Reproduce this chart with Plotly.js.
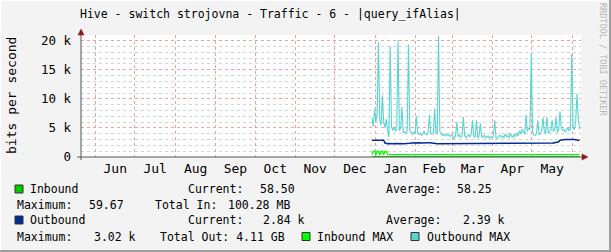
<!DOCTYPE html>
<html>
<head>
<meta charset="utf-8">
<script src="https://cdn.plot.ly/plotly-3.0.1.min.js"></script>
<style>html,body{margin:0;padding:0;background:#f3f3f3;}#chart{width:611px;height:252px;}</style>
</head>
<body>
<div id="chart"></div>
<script>
// ---- data (kbps), one value per day starting 2018-12-29 12:00 ----
const startDate = "2018-12-29T12:00:00";
const outboundMaxK = [6.7,5.2,8.2,6.0,7.5,19.8,6.3,5.5,10.6,6.0,5.0,6.5,4.6,3.4,19.1,5.2,4.6,5.2,4.4,4.8,
  20.1,4.5,5.0,8.6,4.2,4.3,4.0,4.6,19.3,4.6,4.2,3.9,4.3,4.0,7.0,4.2,3.9,4.1,3.7,4.0,
  4.4,4.0,3.8,4.3,7.2,4.1,3.9,4.0,8.3,4.2,3.9,20.8,4.4,4.0,3.7,3.9,3.6,4.0,3.7,3.8,
  3.5,3.9,3.4,3.2,3.6,6.0,3.5,3.8,3.4,3.6,6.9,3.7,3.3,3.6,3.8,3.5,3.9,6.3,3.6,3.4,
  6.3,3.3,3.6,5.8,3.5,3.4,3.8,3.3,3.5,3.6,3.2,3.5,3.4,3.7,6.3,3.3,3.2,3.5,3.8,3.4,
  3.6,3.3,4.0,3.5,3.7,3.3,4.1,3.6,3.4,3.9,3.5,4.2,3.6,4.5,4.0,4.8,4.2,3.9,7.2,4.4,
  5.0,4.7,17.8,4.3,3.8,3.7,4.1,6.3,3.9,4.0,4.5,6.8,4.4,4.0,6.9,4.1,4.3,4.6,6.3,4.4,
  4.7,6.8,4.2,4.8,7.8,5.0,4.6,4.7,4.3,4.6,5.0,4.5,4.8,17.7,5.0,4.7,6.0,10.9,6.6,4.8];
const outboundK = [2.88,2.88,2.87,2.88,2.9,2.92,2.9,2.9,2.95,2.9,2.4,2.32,2.3,2.33,2.3,2.32,2.34,2.3,2.32,2.3,
  2.33,2.31,2.3,2.34,2.32,2.3,2.33,2.3,2.32,2.35,2.4,2.42,2.4,2.44,2.42,2.45,2.4,2.43,2.42,2.4,
  2.44,2.42,2.45,2.43,2.47,2.42,2.44,2.3,2.3,2.32,2.3,2.3,2.31,2.3,2.3,2.32,2.3,2.3,2.3,2.31,
  2.3,2.36,2.3,2.3,2.3,2.32,2.3,2.3,2.3,2.33,2.3,2.3,2.3,2.3,2.36,2.3,2.3,2.3,2.3,2.3,
  2.35,2.3,2.3,2.3,2.3,2.3,2.3,2.32,2.3,2.3,2.3,2.3,2.3,2.3,2.3,2.3,2.3,2.3,2.3,2.3,
  2.3,2.3,2.3,2.3,2.3,2.3,2.3,2.3,2.3,2.3,2.3,2.3,2.3,2.3,2.3,2.36,2.3,2.3,2.3,2.3,
  2.3,2.3,2.3,2.3,2.3,2.3,2.3,2.3,2.3,2.3,2.3,2.3,2.3,2.3,2.28,2.3,2.34,2.36,2.4,2.42,
  2.45,2.5,2.56,2.62,2.9,2.96,2.98,2.97,3.0,2.98,3.02,2.99,3.0,2.98,3.0,3.01,2.97,2.98,2.96,2.84];
const inboundMaxK = [0.4,1.0,1.0,0.35,1.0,1.0,0.35,1.0,1.0,0.35,1.0,0.9,0.45,0.42,0.4,0.4,0.42,0.4,0.4,0.45,
  0.42,0.4,0.4,0.45,0.4,0.4,0.42,0.4,0.4,0.48,0.4,0.42,0.4,0.4,0.45,0.4,0.4,0.42,0.4,0.4,
  0.4,0.42,0.4,0.45,0.4,0.4,0.4,0.42,0.4,0.4,0.48,0.4,0.4,0.42,0.4,0.4,0.4,0.45,0.4,0.4,
  0.42,0.4,0.4,0.4,0.45,0.4,0.4,0.42,0.4,0.4,0.46,0.4,0.4,0.42,0.4,0.4,0.4,0.45,0.4,0.42,
  0.4,0.4,0.45,0.4,0.4,0.42,0.4,0.4,0.4,0.45,0.4,0.42,0.4,0.4,0.46,0.4,0.4,0.42,0.4,0.4,
  0.45,0.4,0.4,0.42,0.4,0.4,0.4,0.45,0.42,0.4,0.4,0.4,0.46,0.4,0.4,0.42,0.4,0.4,0.45,0.4,
  0.42,0.4,0.45,0.4,0.4,0.42,0.4,0.48,0.4,0.4,0.42,0.45,0.4,0.4,0.42,0.4,0.4,0.45,0.4,0.42,
  0.4,0.4,0.45,0.4,0.42,0.4,0.4,0.46,0.4,0.4,0.42,0.5,0.45,0.4,0.42,0.4,0.4,0.45,0.42,0.4];
const inboundK = [0.059,0.058,0.06,0.058,0.059,0.058,0.058,0.06,0.058,0.059,0.058,0.058,0.059,0.058,0.058,0.058,0.059,0.058,0.058,0.058,
  0.058,0.058,0.059,0.058,0.058,0.058,0.058,0.059,0.058,0.058,0.058,0.058,0.058,0.058,0.059,0.058,0.058,0.058,0.058,0.058,
  0.058,0.058,0.058,0.058,0.058,0.058,0.058,0.058,0.058,0.058,0.058,0.058,0.058,0.058,0.058,0.058,0.058,0.058,0.058,0.058,
  0.058,0.058,0.058,0.058,0.058,0.058,0.058,0.058,0.058,0.058,0.058,0.058,0.058,0.058,0.058,0.058,0.058,0.058,0.058,0.058,
  0.058,0.058,0.058,0.058,0.058,0.058,0.058,0.058,0.058,0.058,0.058,0.058,0.058,0.058,0.058,0.058,0.058,0.058,0.058,0.058,
  0.058,0.058,0.058,0.058,0.058,0.058,0.058,0.058,0.058,0.058,0.058,0.058,0.058,0.058,0.058,0.058,0.058,0.058,0.058,0.058,
  0.058,0.058,0.058,0.058,0.058,0.058,0.058,0.058,0.058,0.058,0.058,0.058,0.058,0.058,0.058,0.058,0.058,0.058,0.058,0.058,
  0.058,0.058,0.058,0.058,0.058,0.058,0.058,0.058,0.058,0.058,0.058,0.058,0.058,0.058,0.058,0.058,0.058,0.058,0.058,0.0585];
const yTickVals = [0,5,10,15,20];
const yTickText = ["0","5 k","10 k","15 k","20 k"];
const titleText = "Hive - switch strojovna - Traffic - 6 - |query_ifAlias|";
const yTitle = "bits per second";
const inboundStats = ["58.50","58.25","59.67","100.28 MB"];
const outboundStats = ["2.84 k","2.39 k","3.02 k","4.11 GB"];

// ---- build ----
const dates = [];
const t0 = new Date(startDate + "Z").getTime();
for (let i = 0; i < outboundMaxK.length; i++) {
  dates.push(new Date(t0 + i*86400000).toISOString().slice(0,19).replace("T"," "));
}
const C = {inb:"#00cc00", inbMax:"#00ff00", out:"#002a97", outMax:"#55d6d3"};
const L = 81, R = 581, T = 35, B = 157;
const px = x => (x - L)/(R - L);
const py = y => (B - y)/(B - T);
const FONT = "DejaVu Sans Mono";
const LEG = 11.5;

const traces = [
  {x:dates, y:outboundMaxK, type:"scatter", mode:"lines", line:{color:C.outMax,width:1.1}},
  {x:dates, y:outboundK, type:"scatter", mode:"lines", line:{color:C.out,width:1.5}},
  {x:dates, y:inboundMaxK, type:"scatter", mode:"lines", line:{color:C.inbMax,width:1.3}},
  {x:dates, y:inboundK, type:"scatter", mode:"lines", line:{color:C.inb,width:1}}
];

const ann = [];
function txt(t, x, y, anchor, opts) {
  ann.push(Object.assign({text:t, xref:"paper", yref:"paper", x:px(x), y:py(y),
    xanchor:anchor, yanchor:"middle", showarrow:false, borderpad:0,
    font:{family:FONT, size:LEG, color:"#000"}}, opts||{}));
}
txt(titleText, 270, 14, "center", {font:{family:FONT, size:11.5, color:"#000"}});
txt(yTitle, 11, 96, "center", {textangle:-90, font:{family:FONT, size:13, color:"#000"}});
txt("RRDTOOL / TOBI OETIKER", 603, 59, "center", {textangle:90, font:{family:FONT, size:8.5, color:"#b8b8b8"}});
// legend rows
const r1 = 189, r2 = 205, r3 = 220, r4 = 236.5;
txt("Inbound", 29, r1, "left");
txt("Current:", 187, r1, "left");
txt(inboundStats[0], 296, r1, "right");
txt("Average:", 385, r1, "left");
txt(inboundStats[1], 493, r1, "right");
txt("Maximum:", 16, r2, "left");
txt(inboundStats[2], 125, r2, "right");
txt("Total In:", 154, r2, "left");
txt(inboundStats[3], 291, r2, "right");
txt("Outbound", 29, r3, "left");
txt("Current:", 187, r3, "left");
txt(outboundStats[0], 306, r3, "right");
txt("Average:", 385, r3, "left");
txt(outboundStats[1], 506, r3, "right");
txt("Maximum:", 16, r4, "left");
txt(outboundStats[2], 137, r4, "right");
txt("Total Out: " + outboundStats[3], 159, r4, "left");
txt("Inbound MAX", 315.5, r4, "left");
txt("Outbound MAX", 425.5, r4, "left");

const shapes = [];
function box(x0, y0, color) {
  shapes.push({type:"rect", xref:"paper", yref:"paper", x0:px(x0), x1:px(x0+8), y0:py(y0+8), y1:py(y0),
    fillcolor:color, line:{color:"#333", width:1}});
}
box(15, r1-4, C.inb);
box(15, r3-4, C.out);
box(302, r4-4, C.inbMax);
box(411, r4-4, C.outMax);
function seg(x0,y0,x1,y1,color,w){
  shapes.push({type:"line", xref:"paper", yref:"paper", x0:px(x0), y0:py(y0), x1:px(x1), y1:py(y1), line:{color:color,width:w}});
}
// axes with arrows
seg(81, 160, 81, 31, "#555", 1);
seg(77, 157, 585, 157, "#555", 1);
shapes.push({type:"path", xref:"paper", yref:"paper", fillcolor:"#8b1a1a", line:{color:"#8b1a1a",width:0.5},
  path:`M ${px(78)} ${py(35)} L ${px(84)} ${py(35)} L ${px(81)} ${py(29)} Z`});
shapes.push({type:"path", xref:"paper", yref:"paper", fillcolor:"#8b1a1a", line:{color:"#8b1a1a",width:0.5},
  path:`M ${px(582)} ${py(154)} L ${px(582)} ${py(160)} L ${px(588)} ${py(157)} Z`});
// frame
seg(0, 0.5, 611, 0.5, "#ffffff", 1);
seg(0.5, 0, 0.5, 252, "#ffffff", 1);
seg(0, 251, 611, 251, "#a0a0a0", 2);
seg(610, 0, 610, 252, "#a0a0a0", 2);

const layout = {
  width:611, height:252,
  margin:{l:L, r:611-R, t:T, b:252-B, pad:0},
  paper_bgcolor:"#f3f3f3", plot_bgcolor:"#ffffff",
  showlegend:false,
  font:{family:FONT, size:11, color:"#000"},
  xaxis:{type:"date", range:["2018-05-20 18:00","2019-06-07 14:00"],
    tickmode:"linear", tick0:"2018-06-01", dtick:"M1", tickformat:"%b", ticklabelmode:"period",
    showgrid:true, gridcolor:"#f0a0a0", griddash:"dot", gridwidth:1,
    showline:false, zeroline:false, ticks:"", ticklabelstandoff:2,
    tickfont:{family:FONT, size:13, color:"#000"}, fixedrange:true},
  yaxis:{range:[0,20.98], tickmode:"array", tickvals:yTickVals, ticktext:yTickText,
    showgrid:true, gridcolor:"#f0a0a0", griddash:"dot", gridwidth:1,
    minor:{tickmode:"linear", tick0:0, dtick:1, showgrid:true, gridcolor:"#d4d4d4", griddash:"dot", gridwidth:1, ticks:""},
    showline:false, zeroline:false, ticks:"", ticklabelstandoff:9,
    tickfont:{family:FONT, size:12.5, color:"#000"}, fixedrange:true},
  annotations:ann, shapes:shapes
};
Plotly.newPlot("chart", traces, layout, {displayModeBar:false, staticPlot:true});
</script>
</body>
</html>
